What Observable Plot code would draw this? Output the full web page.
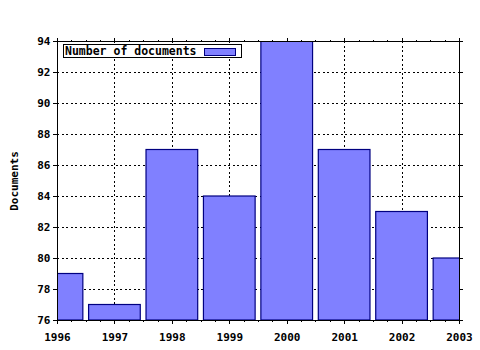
<!DOCTYPE html>
<html>
<head>
<meta charset="utf-8">
<script src="https://cdn.jsdelivr.net/npm/d3@7"></script>
<script src="https://cdn.jsdelivr.net/npm/@observablehq/plot@0.6"></script>
<style>
  html, body { margin: 0; padding: 0; background: white; }
  #wrap { position: relative; width: 480px; height: 350px; }
  #legend {
    position: absolute; left: 63px; top: 44px; width: 177px; height: 12px;
    border: 1px solid black; background: white;
    font: bold 11.5px "DejaVu Sans Mono", monospace; line-height: 12px; color: black;
  }
  #legend span.t { position: absolute; left: 1px; top: 0px; white-space: pre; }
  #legend span.s { position: absolute; left: 140px; top: 3px; width: 30px; height: 6px; background: #8080ff; border: 1px solid #000080; }
  svg line, svg path { shape-rendering: crispEdges; }
</style>
</head>
<body>
<div id="wrap"></div>
<script>
const years = [1996, 1997, 1998, 1999, 2000, 2001, 2002, 2003];
const documents = [79, 77, 87, 84, 94, 87, 83, 80];
const yTicks = [76, 78, 80, 82, 84, 86, 88, 90, 92, 94];
const minorX = [1996.25, 1996.5, 1996.75, 1997.25, 1997.5, 1997.75, 1998.25, 1998.5, 1998.75,
  1999.25, 1999.5, 1999.75, 2000.25, 2000.5, 2000.75, 2001.25, 2001.5, 2001.75,
  2002.25, 2002.5, 2002.75];
const seriesName = "Number of documents";
const yLabel = "Documents";

const data = years.map((y, i) => ({year: y, value: documents[i]}));

const chart = Plot.plot({
  width: 480, height: 350,
  marginLeft: 57, marginRight: 21, marginTop: 41, marginBottom: 30,
  style: {fontFamily: "DejaVu Sans Mono", fontWeight: "bold", fontSize: "11px", background: "white", color: "black"},
  x: {type: "linear", domain: [1996, 2003]},
  y: {type: "linear", domain: [76, 94]},
  marks: [
    Plot.gridX(years, {stroke: "black", strokeOpacity: 1, strokeDasharray: "2,2.5"}),
    Plot.gridY(yTicks, {stroke: "black", strokeOpacity: 1, strokeDasharray: "2,2.5"}),
    Plot.rect(data, {x1: d => d.year - 0.45, x2: d => d.year + 0.45, y1: 76, y2: "value",
      fill: "#8080ff", stroke: "#000080", strokeWidth: 1.2, clip: true}),
    Plot.frame({stroke: "black"}),
    Plot.axisX({ticks: years, tickFormat: d => String(d), tickSize: 4, tickPadding: 9, label: null}),
    Plot.axisX({ticks: minorX, tickFormat: () => "", tickSize: 2, label: null}),
    Plot.axisX({anchor: "top", ticks: years, tickFormat: () => "", tickSize: 4, label: null}),
    Plot.axisX({anchor: "top", ticks: minorX, tickFormat: () => "", tickSize: 2, label: null}),
    Plot.axisY({ticks: yTicks, tickSize: 4, tickPadding: 3, label: yLabel, labelAnchor: "center",
      labelArrow: "none", labelOffset: 47}),
    Plot.axisY({anchor: "right", ticks: yTicks, tickFormat: () => "", tickSize: 3, label: null})
  ]
});
const wrap = document.getElementById("wrap");
wrap.appendChild(chart);
const legend = document.createElement("div");
legend.id = "legend";
legend.innerHTML = '<span class="t"></span><span class="s"></span>';
legend.querySelector(".t").textContent = seriesName;
wrap.appendChild(legend);
</script>
</body>
</html>
